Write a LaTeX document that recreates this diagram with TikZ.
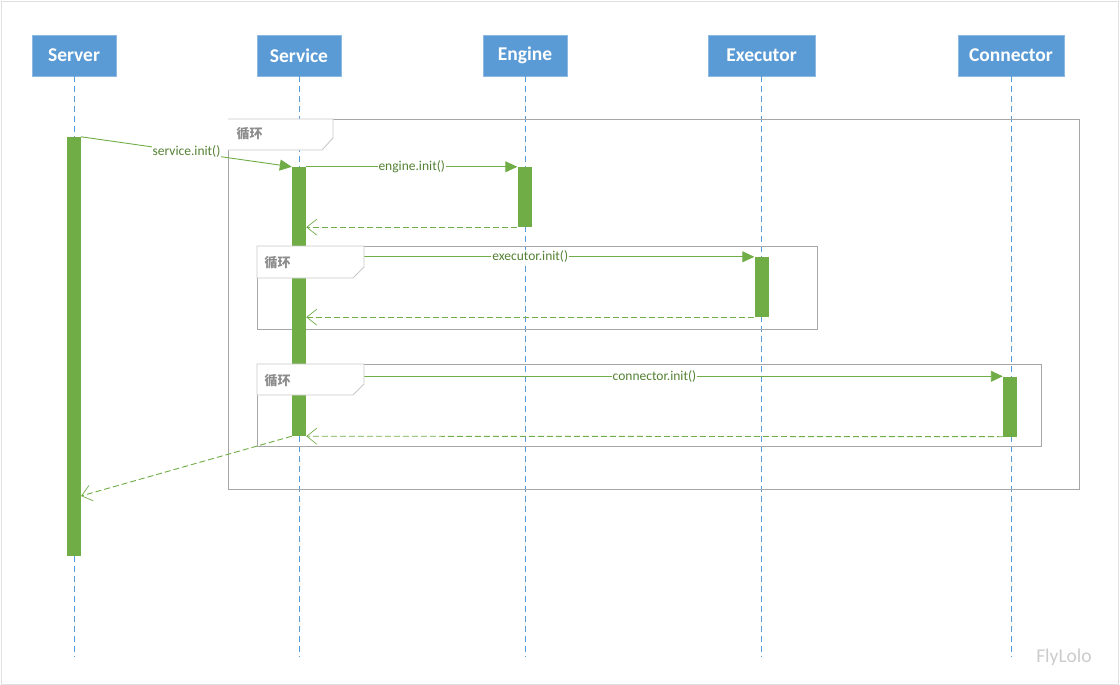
\documentclass[tikz,border=0pt]{standalone}
\usepackage{fontspec}
\setmainfont{Carlito}
\newfontfamily\cjkfont{Noto Sans CJK SC}
\usetikzlibrary{arrows.meta}
\definecolor{HeadFill}{HTML}{5B9BD5}
\definecolor{BarGreen}{HTML}{70AD47}
\definecolor{MsgText}{HTML}{548235}
\definecolor{FrameGray}{HTML}{A6A6A6}
\definecolor{TabGray}{HTML}{C9C9C9}
\definecolor{LoopText}{HTML}{8C8C8C}
\tikzset{
  diagram/.style={x=1pt,y=-1pt,font=\fontsize{13.5}{15}\selectfont},
  header/.style={fill=HeadFill,draw=HeadFill!70!white,text=white,minimum width=84pt,minimum height=41pt,
    font=\fontsize{19.5}{22}\selectfont\bfseries,inner sep=0pt},
  lifeline/.style={draw=HeadFill,line width=1pt,dash pattern=on 6pt off 4pt},
  bar/.style={fill=BarGreen,draw=none,minimum width=14pt,inner sep=0pt},
  call/.style={draw=BarGreen,line width=0.9pt,-{Triangle[length=12pt,width=11pt]}},
  reply/.style={draw=BarGreen,line width=0.9pt,dash pattern=on 6pt off 3pt,
    -{Straight Barb[length=10pt,width=16pt,line width=0.7pt]}},
  msg/.style={fill=white,text=MsgText,inner sep=1pt},
  frame/.style={draw=FrameGray,line width=0.9pt},
  tab/.style={draw=TabGray,fill=white,line width=0.9pt},
  looplabel/.style={text=LoopText,font=\cjkfont\fontsize{13}{15}\selectfont\bfseries,anchor=west},
}
\begin{document}
\begin{tikzpicture}[diagram]
  \useasboundingbox (0,0) rectangle (1120,685);
  \draw[draw=black!12,line width=0.8pt] (1,1) rectangle (1118,684);

  % participants
  \node[header] (server) at (74,55.5) {Server};
  \node[header] (service) at (299,55.5) {Service};
  \node[header] (engine) at (525,55.5) {Engine};
  \node[header,minimum width=107pt] (executor) at (761.5,55.5) {Executor};
  \node[header,minimum width=106pt] (connector) at (1011,55.5) {Connector};
  \coordinate (bottom) at (0,657);
  \foreach \p in {server,service,engine,executor,connector}
    \draw[lifeline] (\p.south) -- (\p.south |- bottom);

  % loop frames
  \draw[frame] (228,119) rectangle (1079,489);
  \draw[frame] (257,246) rectangle (817,329);
  \draw[frame] (257,364) rectangle (1041,446);

  % activations
  \node[bar,minimum height=419pt] (serverAct) at (74,346.5) {};
  \node[bar,minimum height=269pt] (serviceAct) at (299,301.5) {};
  \node[bar,minimum height=60pt] (engineAct) at (524.5,197) {};
  \node[bar,minimum height=60pt] (executorAct) at (761.5,287) {};
  \node[bar,minimum height=60pt] (connectorAct) at (1010,406.5) {};

  % messages
  \draw[call] (serverAct.north east) -- node[msg] {service.init()} (serviceAct.north west |- engineAct.north);
  \draw[call] (serviceAct.east |- engineAct.north) -- node[msg] {engine.init()} (engineAct.north west);
  \draw[reply] (engineAct.south west) -- (serviceAct.east |- engineAct.south);
  \draw[call] (serviceAct.east |- executorAct.north) -- node[msg,pos=0.5] {executor.init()} (executorAct.north west);
  \draw[reply] (executorAct.south west) -- (serviceAct.east |- executorAct.south);
  \draw[call] (serviceAct.east |- connectorAct.north) -- node[msg,pos=0.5] {connector.init()} (connectorAct.north west);
  \draw[reply] (connectorAct.south west) -- (serviceAct.south east);
  \coordinate (back) at (81,496);
  \draw[reply] (serviceAct.south west) -- (back);

  % loop tabs
  \draw[tab] (228,119) -- (333,119) -- (333,138) -- (322,150) -- (228,150);
  \node[looplabel] (loopA) at (233,134) {循环};
  \draw[tab] (257,246) -- (364,246) -- (364,267) -- (353,278) -- (257,278) -- cycle;
  \node[looplabel] (loopB) at (261,263) {循环};
  \draw[tab] (257,364) -- (364,364) -- (364,384) -- (353,395) -- (257,395) -- cycle;
  \node[looplabel] (loopC) at (261,381) {循环};

  \node[text=black!20,font=\fontsize{19.5}{22}\selectfont] (mark) at (1064,657) {FlyLolo};
\end{tikzpicture}
\end{document}
